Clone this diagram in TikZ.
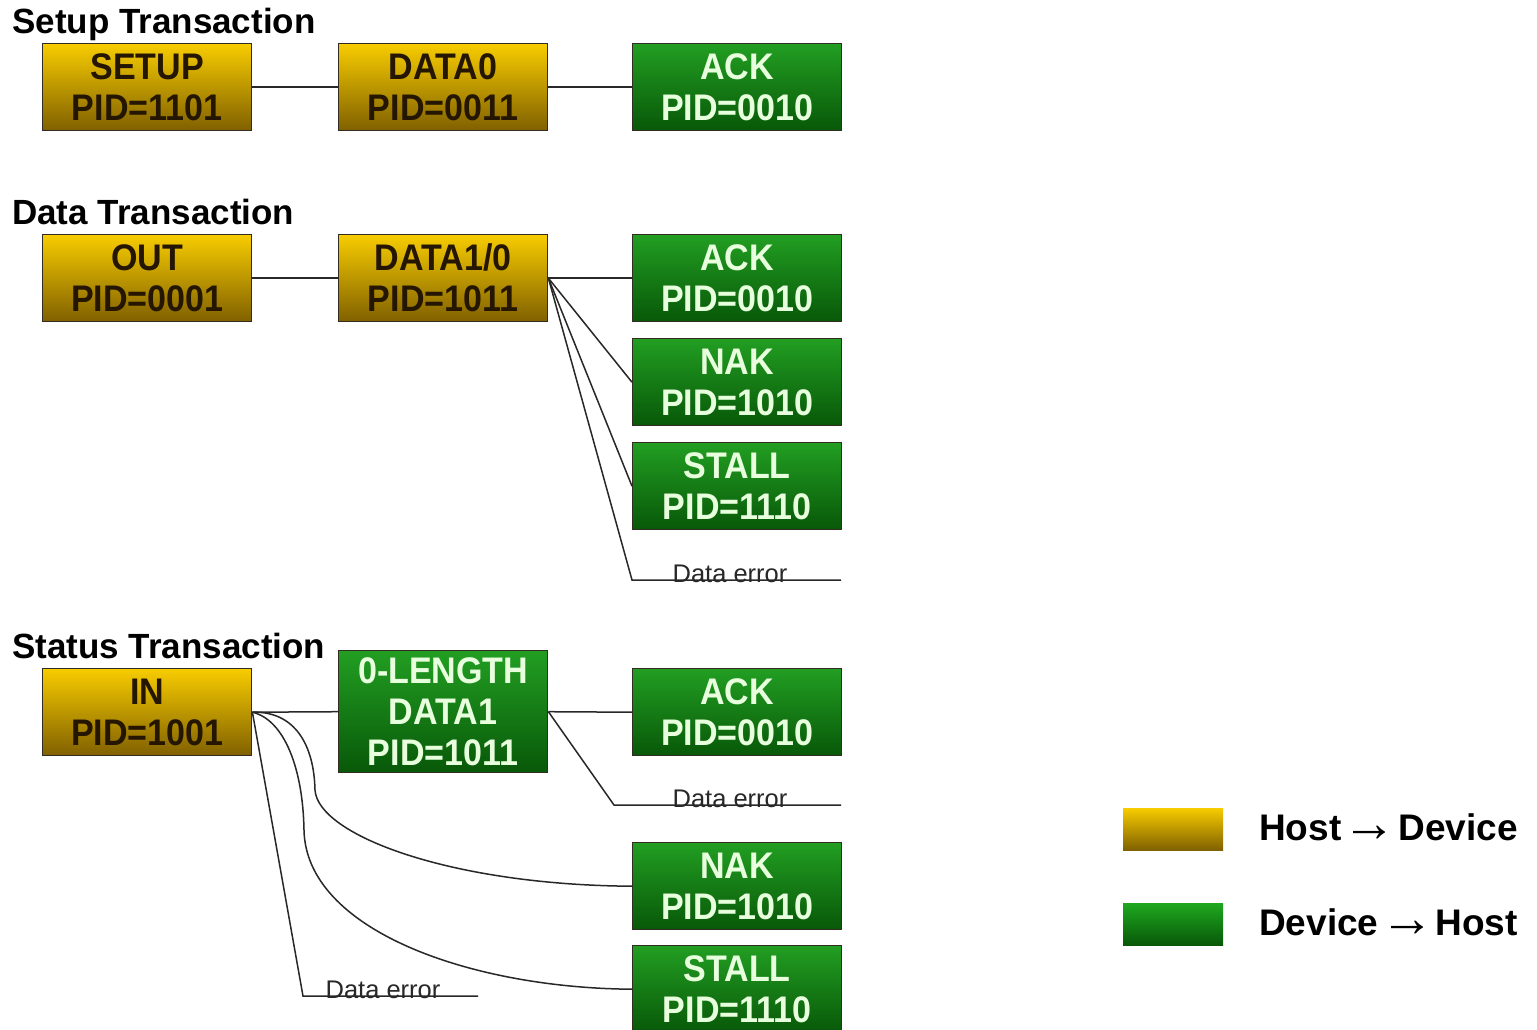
\documentclass[tikz,border=0pt]{standalone}
\usepackage{fontspec}
\setmainfont{Liberation Sans}
\newfontfamily\boxfont{Liberation Sans}[FakeStretch=0.92]

\definecolor{yelTop}{RGB}{247,204,0}
\definecolor{yelBot}{RGB}{128,96,0}
\definecolor{yelText}{RGB}{36,22,0}
\definecolor{grnTop}{RGB}{34,158,34}
\definecolor{grnBot}{RGB}{8,88,8}
\definecolor{grnText}{RGB}{232,255,222}
\definecolor{boxLine}{RGB}{50,45,35}
\definecolor{wireCol}{RGB}{40,40,40}

\newcommand{\bigarrow}{\hspace{1.5pt}{\mdseries\fontsize{54}{44}\selectfont\raisebox{-1pt}{→}}\hspace{1.5pt}}

\tikzset{
  pkt/.style={rectangle, minimum width=209pt, minimum height=87pt, inner sep=0pt,
    align=center, draw=boxLine, line width=1.4pt,
    font=\boxfont\bfseries\fontsize{37}{41}\selectfont},
  host/.style={pkt, top color=yelTop, bottom color=yelBot, text=yelText},
  dev/.style={pkt, top color=grnTop, bottom color=grnBot, text=grnText},
  wire/.style={draw=wireCol, line width=1.5pt},
  title/.style={anchor=base west, inner sep=0pt, font=\bfseries\fontsize{35}{40}\selectfont},
  errtxt/.style={anchor=base, inner sep=0pt, text=wireCol, font=\fontsize{25.5}{28}\selectfont},
  legbox/.style={rectangle, minimum width=100pt, minimum height=42pt, inner sep=0pt, anchor=north west},
  legtxt/.style={anchor=base west, inner sep=0pt, font=\bfseries\fontsize{37}{44}\selectfont}
}

\begin{document}
\begin{tikzpicture}[x=1pt, y=-1pt]
\useasboundingbox[fill=white] (0,0) rectangle (1537,1029);

% ---- Setup transaction ----
\node[title] (tsetup) at (12,33) {Setup Transaction};
\node[host, anchor=north west] (setup) at (42,43) {SETUP\\PID=1101};
\node[host, anchor=north west] (data0) at (338,43) {DATA0\\PID=0011};
\node[dev,  anchor=north west] (ackA)  at (632,43) {ACK\\PID=0010};
\draw[wire] (setup.east) -- (data0.west);
\draw[wire] (data0.east) -- (ackA.west);

% ---- Data transaction ----
\node[title] (tdata) at (12,224) {Data Transaction};
\node[host, anchor=north west] (out)    at (42,234)  {OUT\\PID=0001};
\node[host, anchor=north west] (data1)  at (338,234) {DATA1/0\\PID=1011};
\node[dev,  anchor=north west] (ackB)   at (632,234) {ACK\\PID=0010};
\node[dev,  anchor=north west] (nakB)   at (632,338) {NAK\\PID=1010};
\node[dev,  anchor=north west] (stallB) at (632,442) {STALL\\PID=1110};
\coordinate (errBc) at (632,580);
\coordinate (errBe) at (841,580);
\draw[wire] (out.east) -- (data1.west);
\draw[wire] (data1.east) -- (ackB.west);
\draw[wire] (data1.east) -- (nakB.west);
\draw[wire] (data1.east) -- (stallB.west);
\draw[wire] (data1.east) -- (errBc) -- (errBe);
\node[errtxt] (errBt) at (730,582) {Data error};

% ---- Status transaction ----
\node[title] (tstatus) at (12,658) {Status Transaction};
\node[host, anchor=north west] (in)     at (42,668)  {IN\\PID=1001};
\node[dev,  anchor=north west, minimum height=122pt] (zlen) at (338,650) {0-LENGTH\\DATA1\\PID=1011};
\node[dev,  anchor=north west] (ackC)   at (632,668) {ACK\\PID=0010};
\node[dev,  anchor=north west] (nakC)   at (632,842) {NAK\\PID=1010};
\node[dev,  anchor=north west] (stallC) at (632,945) {STALL\\PID=1110};
\coordinate (errCc) at (614,805);
\coordinate (errCe) at (841,805);
\coordinate (errDc) at (303,996);
\coordinate (errDe) at (478,996);
\draw[wire] (in.east) -- (zlen.west);
\draw[wire] (zlen.east) -- (ackC.west);
\draw[wire] (zlen.east) -- (errCc) -- (errCe);
\node[errtxt] (errCt) at (730,807) {Data error};
\draw[wire] (in.east) .. controls (295,711) and (314,745) .. (315,790)
                      .. controls (318,835) and (450,885) .. (nakC.west);
\draw[wire] (in.east) .. controls (285,720) and (303,770) .. (304,830)
                      .. controls (306,930) and (470,988) .. (stallC.west);
\draw[wire] (in.east) -- (errDc) -- (errDe);
\node[errtxt] (errDt) at (383,998) {Data error};

% ---- Legend ----
\node[legbox, top color=yelTop, bottom color=yelBot] (legH) at (1123,808) {};
\node[legbox, top color=grnTop!90!green, bottom color=grnBot] (legD) at (1123,903) {};
\node[legtxt] (legHt) at (1259,840) {Host\bigarrow Device};
\node[legtxt] (legDt) at (1259,935) {Device\bigarrow Host};
\end{tikzpicture}
\end{document}
